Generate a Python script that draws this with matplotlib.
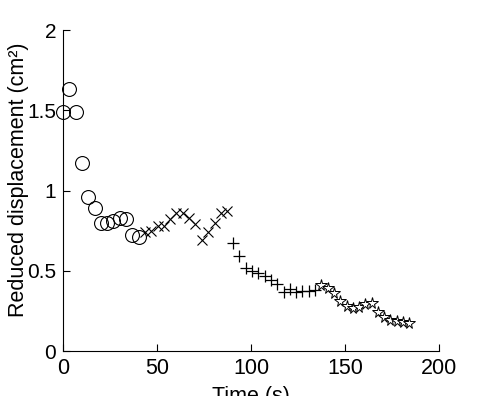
import numpy as np
from matplotlib import pyplot as plt

plt.rcParams['font.family'] = ['Liberation Sans', 'DejaVu Sans']

# circles
t_circ = [0, 3.4, 6.7, 10.1, 13.4, 16.8, 20.1, 23.5, 26.8, 30.2, 33.5, 36.9, 40.2]
d_circ = [1.49, 1.63, 1.49, 1.17, 0.96, 0.89, 0.80, 0.80, 0.81, 0.83, 0.82, 0.72, 0.71]
# crosses
t_x = [43.6, 46.9, 50.3, 53.6, 57.0, 60.3, 63.7, 67.0, 70.4, 74.2, 77.3, 80.6, 83.9, 87.1]
d_x = [0.74, 0.75, 0.78, 0.78, 0.82, 0.86, 0.86, 0.83, 0.79, 0.69, 0.74, 0.80, 0.86, 0.87]
# pluses
t_p = [90.5, 93.8, 97.2, 100.5, 103.9, 107.2, 110.6, 113.9, 117.3, 120.6, 124.0, 127.3, 130.7, 134.0]
d_p = [0.675, 0.59, 0.52, 0.50, 0.485, 0.465, 0.44, 0.42, 0.37, 0.385, 0.37, 0.375, 0.375, 0.38]
# stars
t_s = [137.4, 140.7, 144.1, 147.4, 150.8, 154.1, 157.5, 160.8, 164.2, 167.5, 170.9, 174.2, 177.6, 180.9, 184.3]
d_s = [0.41, 0.39, 0.36, 0.31, 0.28, 0.265, 0.275, 0.29, 0.30, 0.24, 0.215, 0.195, 0.185, 0.18, 0.175]

xticks = [0, 50, 100, 150, 200]
yticks = [0, 0.5, 1, 1.5, 2]
yticklabels = ['0', '0.5', '1', '1.5', '2']

fig = plt.figure(figsize=(4.86, 3.96), dpi=100)
ax = fig.add_axes([0.1296, 0.1136, 0.7737, 0.8106])

ax.plot(t_circ, d_circ, 'o', mfc='none', mec='k', ms=10, mew=0.8, clip_on=False)
ax.plot(t_x, d_x, 'x', color='k', ms=7.5, mew=0.8)
ax.plot(t_p, d_p, '+', color='k', ms=9, mew=0.9)
ax.plot(t_s, d_s, '*', mfc='white', mec='k', ms=8.5, mew=0.7)

ax.set_xlim(0, 200)
ax.set_ylim(0, 2)
ax.set_xticks(xticks)
ax.set_yticks(yticks)
ax.set_yticklabels(yticklabels)
ax.spines['top'].set_visible(False)
ax.spines['right'].set_visible(False)
ax.tick_params(direction='in', length=5, width=0.8, labelsize=15.5, pad=5)
ax.tick_params(axis='y', labelsize=15)
ax.set_xlabel('Time (s)', fontsize=15.5, labelpad=5)
ax.set_ylabel('Reduced displacement (cm\u00b2)', fontsize=15.5)
ax.yaxis.set_label_coords(-0.09, 0.535)

fig.savefig('out.png', dpi=100)
